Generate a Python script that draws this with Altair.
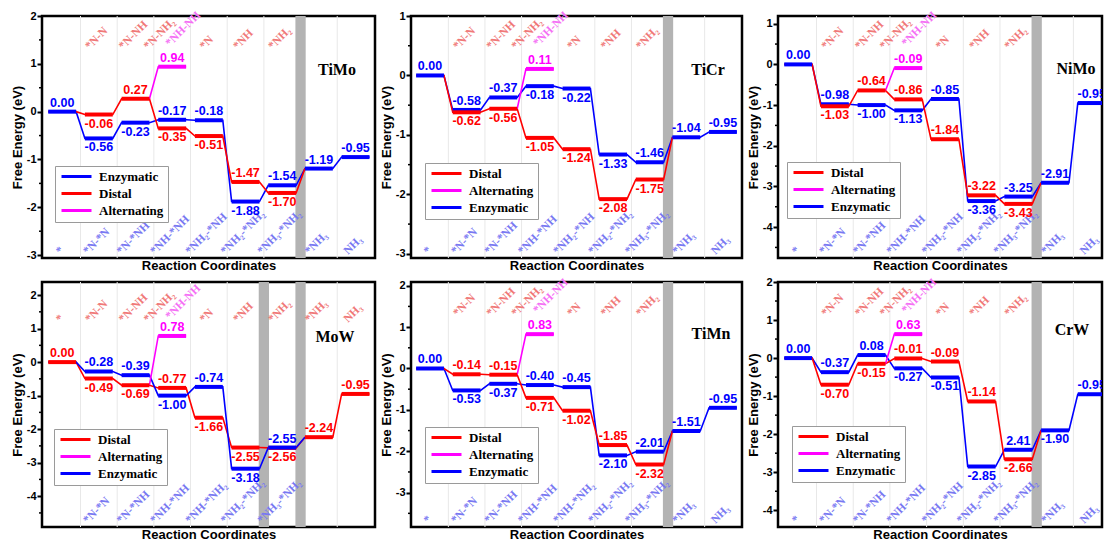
import altair as alt
import pandas as pd

SANS = "Liberation Sans"
SERIF = "Liberation Serif"
COLORS = {"Enzymatic": "#0000ff", "Distal": "#ff0000", "Alternating": "#ff00ff"}
LIGHT_RED = "#f07878"
LIGHT_BLUE = "#7878f2"
LIGHT_MAG = "#f570f5"

# ---------------- data (free energies, eV) ----------------
timo_enz = [0.00, -0.56, -0.23, -0.17, -0.18, -1.88, -1.54, -1.19, -0.95]
timo_dist = [0.00, -0.06, 0.27, -0.35, -0.51, -1.47, -1.70]
timo_alt = 0.94

ticr_enz = [0.00, -0.58, -0.37, -0.18, -0.22, -1.33, -1.46, -1.04, -0.95]
ticr_dist = [0.00, -0.62, -0.56, -1.05, -1.24, -2.08, -1.75]
ticr_alt = 0.11

nimo_enz = [0.00, -0.98, -1.00, -1.13, -0.85, -3.36, -3.25, -2.91, -0.95]
nimo_dist = [0.00, -1.03, -0.64, -0.86, -1.84, -3.22, -3.43]
nimo_alt = -0.09

mow_dist = [0.00, -0.49, -0.69, -0.77, -1.66, -2.55, -2.56, -2.24, -0.95]
mow_enz = [0.00, -0.28, -0.39, -1.00, -0.74, -3.18, -2.55]
mow_alt = 0.78

timn_enz = [0.00, -0.53, -0.37, -0.40, -0.45, -2.10, -2.01, -1.51, -0.95]
timn_dist = [0.00, -0.14, -0.15, -0.71, -1.02, -1.85, -2.32]
timn_alt = 0.83

crw_enz = [0.00, -0.37, 0.08, -0.27, -0.51, -2.85, -2.41, -1.90, -0.95]
crw_dist = [0.00, -0.70, -0.15, -0.01, -0.09, -1.14, -2.66]
crw_alt = 0.63

# label placement of each value: a = above, b = below, - = none
timo_enz_pos, timo_dist_pos = "abbaabaaa", "-babbab"
ticr_enz_pos, ticr_dist_pos = "aaabbbaaa", "-bbbbbb"
nimo_enz_pos, nimo_dist_pos = "aabbabaaa", "-baaaab"
mow_dist_pos, mow_enz_pos = "abbabbbaa", "-aababa"
timn_enz_pos, timn_dist_pos = "abbaabaaa", "-aabbab"
crw_enz_pos, crw_dist_pos = "aaabbbaba", "-bbaaab"

# intermediate labels
top_std = ["", "*N-N", "*N-NH", "*N-NH₂", "*N", "*NH", "*NH₂", "", ""]
top_mow = ["*", "*N-N", "*N-NH", "*N-NH₂", "*N", "*NH", "*NH₂", "*NH₃", "NH₃"]
alt_label = "*NH-NH"
bottom_std = ["*", "*N-*N", "*N-*NH", "*NH-*NH", "*NH₂-*NH", "*NH₂-*NH₂", "*NH₃-*NH₂", "*NH₃", "NH₃"]
bottom_timn = ["*", "*N-*N", "*N-*NH", "*NH-*NH", "*NH-*NH₂", "*NH₂-*NH₂", "*NH₃-*NH₂", "*NH₃", "NH₃"]
bottom_mow = ["", "*N-*N", "*N-*NH", "*NH-*NH", "*NH-*NH₂", "*NH₂-*NH₂", "*NH₃-*NH₂", "", ""]

HALF = 0.38
LAB_FS = 11.5
CHAR_W = {"*": 0.5, "N": 0.72, "H": 0.78, "-": 0.33, "₂": 0.36, "₃": 0.36}


def text_w(s):
    return sum(CHAR_W.get(c, 0.6) for c in s) * LAB_FS


def panel(name, full_name, full_vals, full_pos, part_vals, part_pos, alt_val,
          order, ydom, xdom, width, height, bands, top_labels, bottom_labels,
          top_y, legend_xy, name_xy, overrides=None):
    overrides = overrides or {}
    pxu = width / (xdom[1] - xdom[0])
    part_name = "Distal" if full_name == "Enzymatic" else "Enzymatic"
    dist_vals = full_vals if full_name == "Distal" else part_vals

    xs = alt.Scale(domain=xdom, nice=False, zero=False)
    ys = alt.Scale(domain=ydom, nice=False, zero=False)
    yticks = [t for t in range(-6, 4) if ydom[0] <= t <= ydom[1]]
    minor = [t + 0.5 for t in range(-6, 4) if ydom[0] <= t + 0.5 <= ydom[1]]

    x_axis = alt.Axis(title="Reaction Coordinates", labels=False, ticks=False, domain=False,
                      grid=False, titleFont=SANS, titleFontSize=13, titleFontWeight="bold",
                      titlePadding=1, titleColor="black")
    y_axis = alt.Axis(title="Free Energy (eV)", values=yticks, labelExpr="'' + datum.value",
                      tickSize=5, tickWidth=2, tickColor="black", domain=False, grid=False,
                      labelFont=SANS, labelFontSize=11, labelFontWeight="bold", labelColor="black",
                      labelPadding=1, titleFont=SANS, titleFontSize=13, titleFontWeight="bold",
                      titlePadding=2, titleColor="black")
    leg = alt.Legend(title=None, orient="none", legendX=legend_xy[0], legendY=legend_xy[1],
                     symbolType="M-3,0L3,0", symbolStrokeWidth=3, symbolSize=100,
                     symbolOffset=11, labelOffset=16,
                     labelFont=SERIF, labelFontSize=13, labelFontWeight="bold", labelColor="black",
                     strokeColor="#9a9a9a", fillColor="white", padding=4, rowPadding=3)
    color = alt.Color("s:N", scale=alt.Scale(domain=order, range=[COLORS[o] for o in order]),
                      legend=leg)

    def X(f):
        return alt.X(f, type="quantitative", scale=xs, axis=x_axis)

    def Y(f):
        return alt.Y(f, type="quantitative", scale=ys, axis=y_axis)

    # levels
    lev = []
    for k, v in enumerate(full_vals):
        lev.append(dict(s=full_name, x1=k - HALF, x2=k + HALF, v=v))
    for k, v in enumerate(part_vals):
        if k > 0:
            lev.append(dict(s=part_name, x1=k - HALF, x2=k + HALF, v=v))
    lev.append(dict(s="Alternating", x1=3 - HALF, x2=3 + HALF, v=alt_val))
    lev = pd.DataFrame(lev)

    # connecting paths
    con = []
    for k, v in enumerate(full_vals):
        con += [dict(s=full_name, x=k - HALF, v=v, o=2 * k), dict(s=full_name, x=k + HALF, v=v, o=2 * k + 1)]
    for k, v in enumerate(part_vals):
        con += [dict(s=part_name, x=k - HALF, v=v, o=2 * k), dict(s=part_name, x=k + HALF, v=v, o=2 * k + 1)]
    con.append(dict(s=part_name, x=7 - HALF, v=full_vals[7], o=20))
    con += [dict(s="Alternating", x=2 + HALF, v=dist_vals[2], o=0),
            dict(s="Alternating", x=3 - HALF, v=alt_val, o=1),
            dict(s="Alternating", x=3 + HALF, v=alt_val, o=2)]
    con = pd.DataFrame(con)

    # value labels
    labs = []
    for sname, vals, pos in [(full_name, full_vals, full_pos), (part_name, part_vals, part_pos)]:
        for k, (v, p) in enumerate(zip(vals, pos)):
            if p == "-":
                continue
            txt = overrides.get((sname, k), f"{v:.2f}")
            labs.append(dict(s=sname, k=k, v=v, t=txt, p=p))
    labs.append(dict(s="Alternating", k=3, v=alt_val, t=f"{alt_val:.2f}", p="a"))
    labs = pd.DataFrame(labs)

    # intermediate labels (rotated, anchored at their lower-left end)
    def lab_df(labels, positions):
        rows = []
        for kk, t in zip(positions, labels):
            if t:
                rows.append(dict(x=kk - text_w(t) * 0.707 / 2 / pxu, t=t))
        return pd.DataFrame(rows)

    top_pos = [0, 1, 2, 2.72, 4, 5, 6, 7, 8]
    top_df = lab_df(top_labels, top_pos)
    mag_df = lab_df([alt_label], [3.36])
    bot_df = lab_df(bottom_labels, list(range(9)))

    grid_b = [k + 0.5 for k in range(8) if (k + 0.5) not in bands]
    grid_df = pd.DataFrame({"b": grid_b})
    band_df = pd.DataFrame({"b1": [b - 0.14 for b in bands], "b2": [b + 0.14 for b in bands]})
    minor_df = pd.DataFrame({"m": minor})
    name_df = pd.DataFrame({"n": [name]})

    rot = dict(font=SERIF, fontSize=LAB_FS, fontWeight="bold", angle=315, align="left",
               baseline="alphabetic")
    layers = [
        alt.Chart(grid_df).mark_rule(color="#e8e8e8", strokeWidth=1).encode(x=X("b")),
        alt.Chart(band_df).mark_rect(color="#b3b3b3").encode(
            x=X("b1"), x2="b2", y=alt.value(0), y2=alt.value(height)),
        alt.Chart(top_df).mark_text(color=LIGHT_RED, **rot).encode(
            x=X("x"), y=alt.value(top_y), text="t:N"),
        alt.Chart(mag_df).mark_text(color=LIGHT_MAG, **rot).encode(
            x=X("x"), y=alt.value(top_y - 3), text="t:N"),
        alt.Chart(bot_df).mark_text(color=LIGHT_BLUE, **rot).encode(
            x=X("x"), y=alt.value(height - 3), text="t:N"),
        alt.Chart(con).mark_line(strokeWidth=1.6, clip=True).encode(
            x=X("x"), y=Y("v"), color=color, detail="s:N", order="o:Q"),
        alt.Chart(lev).mark_rule(strokeWidth=4, clip=True).encode(
            x=X("x1"), x2="x2", y=Y("v"), color=color),
        alt.Chart(labs[labs.p == "a"]).mark_text(
            font=SANS, fontSize=12.5, fontWeight="bold", dy=-9, baseline="middle", clip=True).encode(
            x=X("k"), y=Y("v"), text="t:N", color=color),
        alt.Chart(labs[labs.p == "b"]).mark_text(
            font=SANS, fontSize=12.5, fontWeight="bold", dy=9, baseline="middle", clip=True).encode(
            x=X("k"), y=Y("v"), text="t:N", color=color),
        alt.Chart(name_df).mark_text(
            font=SERIF, fontSize=16, fontWeight="bold", color="black").encode(
            x=alt.value(name_xy[0]), y=alt.value(name_xy[1]), text="n:N"),
        alt.Chart(minor_df).mark_rule(color="black", strokeWidth=1.5).encode(
            y=Y("m"), x=alt.value(-3), x2=alt.value(0)),
    ]
    return alt.layer(*layers).properties(width=width, height=height)


ORDER1 = ["Enzymatic", "Distal", "Alternating"]
ORDER2 = ["Distal", "Alternating", "Enzymatic"]
XD1 = [-0.55, 8.53]
XD2 = [-0.52, 8.52]
XD3 = [-0.55, 8.28]
W1, W2, W3 = 333, 331, 324
H1, H2 = 242, 245

p1 = panel("TiMo", "Enzymatic", timo_enz, timo_enz_pos, timo_dist, timo_dist_pos, timo_alt,
           ORDER1, [-3.06, 2.0], XD1, W1, H1, [6.5], top_std, bottom_std, 34, (13, 150), (295, 54))
p2 = panel("TiCr", "Enzymatic", ticr_enz, ticr_enz_pos, ticr_dist, ticr_dist_pos, ticr_alt,
           ORDER2, [-3.07, 1.0], XD2, W2, H1, [6.5], top_std, bottom_std, 34, (14, 147), (297, 54))
p3 = panel("NiMo", "Enzymatic", nimo_enz, nimo_enz_pos, nimo_dist, nimo_dist_pos, nimo_alt,
           ORDER2, [-4.76, 1.19], XD3, W3, H1, [6.5], top_std, bottom_std, 34, (9, 146), (298, 53))
p4 = panel("MoW", "Distal", mow_dist, mow_dist_pos, mow_enz, mow_enz_pos, mow_alt,
           ORDER2, [-4.92, 2.39], XD1, W1, H2, [5.5, 6.5], top_mow, bottom_mow, 41, (12, 147), (293, 55))
p5 = panel("TiMn", "Enzymatic", timn_enz, timn_enz_pos, timn_dist, timn_dist_pos, timn_alt,
           ORDER2, [-3.83, 2.09], XD2, W2, H2, [6.5], top_std, bottom_timn, 35, (14, 145), (300, 52))
p6 = panel("CrW", "Enzymatic", crw_enz, crw_enz_pos, crw_dist, crw_dist_pos, crw_alt,
           ORDER2, [-4.44, 2.0], XD3, W3, H2, [6.5], top_std, bottom_std, 35, (14, 144), (294, 48),
           overrides={("Enzymatic", 6): "2.41"})

chart = alt.concat(p1, p2, p3, p4, p5, p6, columns=3,
                   spacing={"row": 24, "column": 36}, bounds="flush").resolve_scale(
    color="independent").configure_view(stroke="black", strokeWidth=2.5).properties(
    padding={"left": 9, "top": 8, "right": 0, "bottom": 0}, background="white")

chart.save("out.html", embed_options={"renderer": "svg", "actions": False})
